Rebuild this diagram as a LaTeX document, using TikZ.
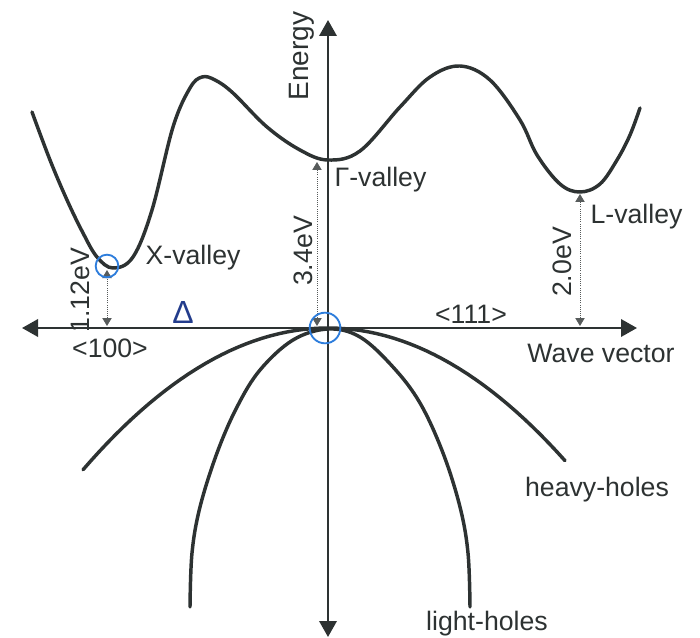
\documentclass[tikz,border=0pt]{standalone}
\usepackage{fontspec}
\setmainfont{Liberation Sans}
\usetikzlibrary{arrows.meta}
\definecolor{bandgray}{RGB}{45,50,50}
\definecolor{markblue}{RGB}{45,125,220}
\definecolor{inkblue}{RGB}{35,60,140}

\begin{document}
\begin{tikzpicture}[x=0.75pt,y=-0.75pt,
  axis/.style={bandgray,line width=1.9pt,{Triangle[length=12pt,width=13pt]}-{Triangle[length=12pt,width=13pt]}},
  band/.style={bandgray,line width=2.6pt,line cap=round},
  gaparrow/.style={bandgray!80,line width=0.6pt,densely dotted,
                   {Triangle[length=6pt,width=7pt]}-{Triangle[length=6pt,width=7pt]}},
  lbl/.style={inner sep=1pt,font=\fontsize{20}{23}\selectfont,text=bandgray},
  ringmark/.style={circle,draw=markblue,line width=1.4pt,inner sep=0pt}]
  \useasboundingbox (0,0) rectangle (700,638);

  % axes
  \coordinate (kleft) at (22,328);
  \coordinate (kright) at (637,328);
  \coordinate (etop) at (328,20);
  \coordinate (ebot) at (328,637);
  \draw[axis] (kleft) -- (kright);
  \draw[axis] (ebot) -- (etop);

  % conduction band
  \draw[band] plot[smooth,tension=0.6] coordinates {
    (32,112) (50,160) (67,200) (83,233) (97,257) (113,268) (133,257)
    (152,210) (173,127) (190,88) (202,77) (215,80) (233,93) (267,127)
    (300,150) (328,160) (360,151) (400,107) (430,77) (460,66) (490,80)
    (520,120) (537,155) (560,184) (580,192) (600,184) (617,160) (630,135) (640,108)};

  % valence bands
  \draw[band] plot[domain=-245:237,samples=60] ({328+\x},{328+(0.0486*\x)*(0.0486*\x)});
  \draw[band] plot[smooth,tension=0.6] coordinates {
    (190,607) (192,553) (200,507) (217,453) (237,407) (260,370) (293,340) (328,329)
    (360,337) (393,367) (420,403) (443,453) (460,507) (468,553) (470,607)};

  % band gaps
  \coordinate (xmin) at (107,270);
  \coordinate (xbase) at (107,326);
  \coordinate (gmin) at (317,162);
  \coordinate (gbase) at (317,326);
  \coordinate (lmin) at (580,194);
  \coordinate (lbase) at (580,326);
  \draw[gaparrow] (xbase) -- (xmin);
  \draw[gaparrow] (gbase) -- (gmin);
  \draw[gaparrow] (lbase) -- (lmin);

  \node[lbl,rotate=90] (gapx) at (80,290) {1.12eV};
  \node[lbl,rotate=90] (gapg) at (303,251) {3.4eV};
  \node[lbl,rotate=90] (gapl) at (562,262) {2.0eV};

  % labels
  \node[lbl,rotate=90,font=\fontsize{21}{24}\selectfont] (energy) at (302,56) {Energy};
  \node[lbl,anchor=west] (xvalley) at (144,258) {X-valley};
  \node[lbl,anchor=west] (gvalley) at (333,180) {Γ-valley};
  \node[lbl,anchor=west] (lvalley) at (589,217) {L-valley};
  \node[lbl] (dir100) at (110,348) {<100>};
  \node[lbl] (dir111) at (471,314) {<111>};
  \node[lbl] (wavevec) at (601,353) {Wave vector};
  \node[lbl] (heavy) at (597,490) {heavy-holes};
  \node[lbl] (light) at (487,624) {light-holes};

  % hand marks
  \node[ringmark,minimum size=17pt] (xring) at (107,266) {};
  \node[ringmark,minimum size=23pt] (gring) at (325,328) {};
  \node[text=inkblue,font=\fontsize{24}{26}\selectfont] (delta) at (183,312) {Δ};
\end{tikzpicture}
\end{document}
